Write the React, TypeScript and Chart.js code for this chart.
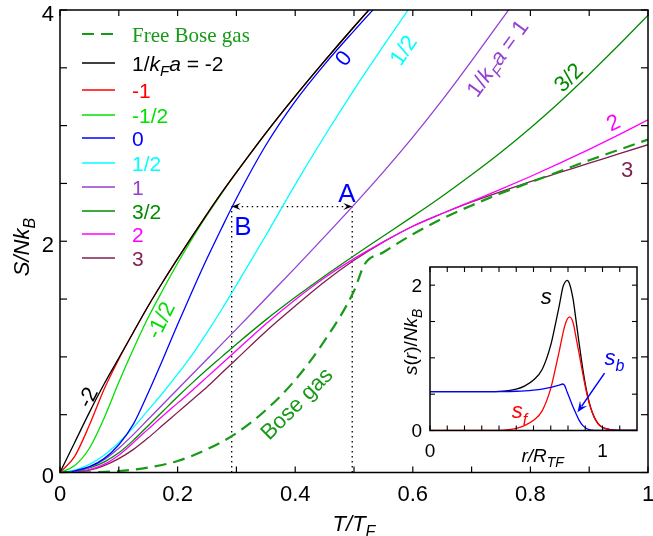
import React, { useEffect, useRef } from "react";
import { Chart, registerables } from "chart.js";

Chart.register(...registerables);

// ---------------- main chart data ----------------
const T_GRID = [0, 0.025, 0.05, 0.075, 0.1, 0.125, 0.15, 0.175, 0.2, 0.225, 0.25, 0.275, 0.3, 0.35, 0.4, 0.45, 0.5, 0.55, 0.6, 0.65, 0.7, 0.75, 0.8, 0.85, 0.9, 0.95, 1.0];

const S_NEG2 = [0, 0.26, 0.52, 0.765, 0.99, 1.215, 1.44, 1.65, 1.85, 2.045, 2.235, 2.42, 2.595, 2.935, 3.255, 3.56, 3.855, 4.14, null, null, null, null, null, null, null, null, null];
const S_NEG1 = [0, 0.14, 0.41, 0.72, 0.98, 1.215, 1.44, 1.65, 1.85, 2.045, 2.235, 2.42, 2.595, 2.935, 3.255, 3.56, 3.855, 4.14, null, null, null, null, null, null, null, null, null];
const S_NEGHALF = [0, 0.06, 0.21, 0.47, 0.78, 1.07, 1.34, 1.58, 1.81, 2.025, 2.225, 2.415, 2.595, 2.935, 3.255, 3.56, 3.855, 4.14, null, null, null, null, null, null, null, null, null];
const S_ZERO = [0, 0.015, 0.05, 0.12, 0.24, 0.42, 0.69, 0.98, 1.28, 1.57, 1.85, 2.115, 2.37, 2.83, 3.21, 3.53, 3.82, 4.1, null, null, null, null, null, null, null, null, null];
const S_HALF = [0, 0.02, 0.07, 0.15, 0.26, 0.39, 0.54, 0.69, 0.85, 1.02, 1.21, 1.41, 1.62, 2.05, 2.49, 2.91, 3.31, 3.69, 4.06, null, null, null, null, null, null, null, null];
const S_ONE = [0, 0.01, 0.045, 0.11, 0.21, 0.33, 0.46, 0.59, 0.72, 0.85, 0.98, 1.11, 1.24, 1.505, 1.77, 2.04, 2.315, 2.6, 2.9, 3.22, 3.56, 3.91, 4.26, null, null, null, null];
const S_THREEHALF = [0, 0.01, 0.04, 0.09, 0.17, 0.28, 0.405, 0.53, 0.655, 0.775, 0.89, 1.0, 1.11, 1.32, 1.515, 1.7, 1.875, 2.045, 2.215, 2.39, 2.575, 2.77, 2.98, 3.205, 3.445, 3.695, 3.955];
const S_TWO = [0, 0.005, 0.025, 0.07, 0.15, 0.26, 0.375, 0.49, 0.6, 0.71, 0.825, 0.94, 1.055, 1.285, 1.495, 1.685, 1.85, 1.995, 2.13, 2.24, 2.345, 2.45, 2.56, 2.675, 2.795, 2.92, 3.05];
const S_THREE = [0, 0.005, 0.02, 0.06, 0.12, 0.2, 0.3, 0.41, 0.52, 0.63, 0.74, 0.86, 0.98, 1.22, 1.44, 1.65, 1.835, 1.995, 2.13, 2.24, 2.34, 2.43, 2.515, 2.595, 2.675, 2.755, 2.835];

const SERIES_LABELS = ["-2", "-1", "-1/2", "0", "1/2", "1", "3/2", "2", "3"];
const SERIES_COLORS = ["#000000", "#ff0000", "#00e000", "#0000ff", "#00ffff", "#9440d3", "#008c00", "#ff00ff", "#7f1f4f"];
const SERIES_VALUES = [S_NEG2, S_NEG1, S_NEGHALF, S_ZERO, S_HALF, S_ONE, S_THREEHALF, S_TWO, S_THREE];

const BOSE_T = [0, 0.05, 0.1, 0.15, 0.2, 0.25, 0.3, 0.35, 0.4, 0.45, 0.5, 0.518, 0.55, 0.6, 0.65, 0.7, 0.75, 0.8, 0.85, 0.9, 0.95, 1.0];
const BOSE_S = [0, 0.002, 0.013, 0.043, 0.1, 0.2, 0.34, 0.54, 0.8, 1.14, 1.57, 1.8, 1.905, 2.06, 2.195, 2.31, 2.415, 2.51, 2.605, 2.7, 2.79, 2.88];
const BOSE_COLOR = "#179a17";
const BOSE_LABEL = "Free Bose gas";

const MARK_B_T = 0.292;
const MARK_A_T = 0.497;
const MARK_S = 2.3;

const X_TICK_VALUES = [0, 0.1, 0.2, 0.3, 0.4, 0.5, 0.6, 0.7, 0.8, 0.9, 1.0];
const X_LABEL_VALUES = [0, 0.2, 0.4, 0.6, 0.8, 1.0];
const X_LABEL_TEXT = ["0", "0.2", "0.4", "0.6", "0.8", "1"];
const Y_TICK_VALUES = [0, 0.5, 1, 1.5, 2, 2.5, 3, 3.5, 4];
const Y_LABEL_VALUES = [0, 2, 4];
const Y_LABEL_TEXT = ["0", "2", "4"];

// ---------------- inset data ----------------
const R_GRID = [0, 0.1, 0.2, 0.3, 0.4, 0.5, 0.55, 0.6, 0.65, 0.7, 0.725, 0.75, 0.77, 0.78, 0.795, 0.81, 0.83, 0.846, 0.865, 0.885, 0.905, 0.923, 0.94, 0.96, 0.98, 1.0, 1.02, 1.05, 1.1, 1.2];
const S_BOSON = [0.535, 0.535, 0.535, 0.535, 0.536, 0.54, 0.545, 0.555, 0.57, 0.595, 0.61, 0.625, 0.64, 0.62, 0.53, 0.44, 0.32, 0.235, 0.14, 0.07, 0.03, 0.012, 0.005, 0, 0, 0, 0, 0, 0, 0];
const S_FERMI = [0, 0, 0, 0, 0.003, 0.03, 0.07, 0.14, 0.27, 0.58, 0.83, 1.1, 1.33, 1.43, 1.53, 1.565, 1.48, 1.29, 1.05, 0.79, 0.55, 0.375, 0.25, 0.146, 0.08, 0.045, 0.025, 0.01, 0.002, 0];
const S_TOTAL = [0.535, 0.535, 0.535, 0.535, 0.539, 0.57, 0.615, 0.695, 0.84, 1.175, 1.44, 1.725, 1.97, 2.03, 2.065, 2.01, 1.8, 1.525, 1.19, 0.86, 0.58, 0.387, 0.255, 0.146, 0.08, 0.045, 0.025, 0.01, 0.002, 0];
const INSET_X_TICKS = [0, 0.1, 0.2, 0.3, 0.4, 0.5, 0.6, 0.7, 0.8, 0.9, 1.0, 1.1];
const INSET_Y_TICKS = [0, 0.5, 1, 1.5, 2];
const INSET_X_LABELS = [0, 1];
const INSET_Y_LABELS = [0, 2];

// ---------------- drawing helpers ----------------
type Part = { t: string; i?: boolean; sub?: boolean; serif?: boolean };
const SANS = '"Liberation Sans", Arial, sans-serif';
const SERIF = '"Liberation Serif", "Times New Roman", serif';

function drawRich(
  ctx: CanvasRenderingContext2D,
  parts: Part[],
  x: number,
  y: number,
  size: number,
  color: string,
  align: "left" | "center" | "right" = "left",
  rot = 0,
  middle = false
) {
  ctx.save();
  ctx.translate(x, y);
  if (rot) ctx.rotate((rot * Math.PI) / 180);
  const font = (p: Part) => `${p.i ? "italic " : ""}${p.sub ? Math.round(size * 0.72) : size}px ${p.serif ? SERIF : SANS}`;
  let w = 0;
  for (const p of parts) {
    ctx.font = font(p);
    w += ctx.measureText(p.t).width;
  }
  let cx = align === "left" ? 0 : align === "center" ? -w / 2 : -w;
  const by = middle ? size * 0.36 : 0;
  ctx.fillStyle = color;
  ctx.textBaseline = "alphabetic";
  ctx.textAlign = "left";
  for (const p of parts) {
    ctx.font = font(p);
    ctx.fillText(p.t, cx, by + (p.sub ? size * 0.28 : 0));
    cx += ctx.measureText(p.t).width;
  }
  ctx.restore();
}

function arrowHead(ctx: CanvasRenderingContext2D, tx: number, ty: number, dx: number, dy: number, len: number, half: number, color: string) {
  const n = Math.hypot(dx, dy);
  const ux = dx / n, uy = dy / n;
  const bx = tx - ux * len, by = ty - uy * len;
  const px = -uy, py = ux;
  ctx.save();
  ctx.fillStyle = color;
  ctx.beginPath();
  ctx.moveTo(tx, ty);
  ctx.lineTo(bx + px * half, by + py * half);
  ctx.lineTo(tx - ux * len * 0.6, ty - uy * len * 0.6);
  ctx.lineTo(bx - px * half, by - py * half);
  ctx.closePath();
  ctx.fill();
  ctx.restore();
}

function seg(ctx: CanvasRenderingContext2D, x1: number, y1: number, x2: number, y2: number) {
  ctx.beginPath();
  ctx.moveTo(x1, y1);
  ctx.lineTo(x2, y2);
  ctx.stroke();
}

const mainDecor = {
  id: "mainDecor",
  afterDraw(chart: any) {
    const { ctx, chartArea: ca } = chart;
    const xs = chart.scales.x;
    const ys = chart.scales.y;
    const X = (v: number) => xs.getPixelForValue(v);
    const Y = (v: number) => ys.getPixelForValue(v);
    ctx.save();
    // arrowheads at A and B
    arrowHead(ctx, X(MARK_B_T), Y(MARK_S), -1, 0, 9, 3.5, "#000");
    arrowHead(ctx, X(MARK_A_T), Y(MARK_S), 1, 0, 9, 3.5, "#000");

    // frame and inward ticks
    ctx.strokeStyle = "#000";
    ctx.lineWidth = 1.5;
    ctx.strokeRect(ca.left, ca.top, ca.right - ca.left, ca.bottom - ca.top);
    ctx.lineWidth = 1.2;
    for (const v of X_TICK_VALUES) {
      const p = X(v);
      seg(ctx, p, ca.bottom, p, ca.bottom - 6);
      seg(ctx, p, ca.top, p, ca.top + 6);
    }
    for (const v of Y_TICK_VALUES) {
      const p = Y(v);
      seg(ctx, ca.left, p, ca.left + 7, p);
      seg(ctx, ca.right, p, ca.right - 7, p);
    }
    // tick labels
    ctx.fillStyle = "#000";
    ctx.font = `22px ${SANS}`;
    ctx.textBaseline = "alphabetic";
    ctx.textAlign = "center";
    X_LABEL_VALUES.forEach((v, i) => ctx.fillText(X_LABEL_TEXT[i], X(v), ca.bottom + 28.5));
    ctx.textAlign = "right";
    Y_LABEL_VALUES.forEach((v, i) => ctx.fillText(Y_LABEL_TEXT[i], ca.left - 6, Y(v) + 3 + 22 * 0.36));

    // axis titles
    drawRich(ctx, [{ t: "T/T", i: true }, { t: "F", i: true, sub: true }], (ca.left + ca.right) / 2, ca.bottom + 58, 22, "#000", "center");
    drawRich(ctx, [{ t: "S/Nk", i: true }, { t: "B", i: true, sub: true }], 21, Y(1.95), 22, "#000", "center", -90, true);

    // curve labels
    drawRich(ctx, [{ t: "-2" }], X(0.046), Y(0.653), 22, SERIES_COLORS[0], "center", -63, true);
    drawRich(ctx, [{ t: "-1/2" }], X(0.17), Y(1.319), 22, SERIES_COLORS[2], "center", -63, true);
    drawRich(ctx, [{ t: "0" }], X(0.481), Y(3.586), 22, SERIES_COLORS[3], "center", -52, true);
    drawRich(ctx, [{ t: "1/2" }], X(0.583), Y(3.655), 22, SERIES_COLORS[4], "center", -56, true);
    drawRich(ctx, [{ t: "1/" }, { t: "k", i: true }, { t: "F", i: true, sub: true }, { t: "a", i: true }, { t: " = 1" }], X(0.743), Y(3.586), 22, SERIES_COLORS[5], "center", -54, true);
    drawRich(ctx, [{ t: "3/2" }], X(0.864), Y(3.421), 22, SERIES_COLORS[6], "center", -45, true);
    drawRich(ctx, [{ t: "2" }], X(0.9405), Y(3.032), 22, SERIES_COLORS[7], "center", -25, true);
    drawRich(ctx, [{ t: "3" }], X(0.9643), Y(2.625), 22, SERIES_COLORS[8], "center", 0, true);
    drawRich(ctx, [{ t: "Bose gas" }], X(0.4014), Y(0.601), 22, BOSE_COLOR, "center", -45, true);
    drawRich(ctx, [{ t: "A" }], X(0.488), Y(2.418), 26, "#0000ff", "center", 0, true);
    drawRich(ctx, [{ t: "B" }], X(0.311), Y(2.133), 26, "#0000ff", "center", 0, true);

    // legend
    const rows = [24, 53, 80, 105, 128, 153, 177, 201, 224, 248];
    const lx0 = ca.left + 22, lx1 = ca.left + 55, tx = ca.left + 72;
    ctx.lineWidth = 2.2;
    ctx.strokeStyle = BOSE_COLOR;
    ctx.setLineDash([12, 7]);
    seg(ctx, lx0, ca.top + rows[0], lx1, ca.top + rows[0]);
    ctx.setLineDash([]);
    drawRich(ctx, [{ t: BOSE_LABEL, serif: true }], tx, ca.top + rows[0], 21, BOSE_COLOR, "left", 0, true);
    ctx.lineWidth = 1.3;
    SERIES_LABELS.forEach((lab, k) => {
      const yy = ca.top + rows[k + 1];
      ctx.strokeStyle = SERIES_COLORS[k];
      seg(ctx, lx0, yy, lx1, yy);
      const parts: Part[] = k === 0
        ? [{ t: "1/" }, { t: "k", i: true }, { t: "F", i: true, sub: true }, { t: "a", i: true }, { t: " = " + lab }]
        : [{ t: lab }];
      drawRich(ctx, parts, tx, yy, 21, SERIES_COLORS[k], "left", 0, true);
    });
    ctx.restore();
  },
};

const insetDecor = {
  id: "insetDecor",
  beforeDatasetsDraw(chart: any) {
    const { ctx, chartArea: ca } = chart;
    ctx.save();
    ctx.fillStyle = "#fff";
    ctx.fillRect(ca.left, ca.top, ca.right - ca.left, ca.bottom - ca.top);
    ctx.restore();
  },
  afterDraw(chart: any) {
    const { ctx, chartArea: ca } = chart;
    const xs = chart.scales.x;
    const ys = chart.scales.y;
    const X = (v: number) => xs.getPixelForValue(v);
    const Y = (v: number) => ys.getPixelForValue(v);
    ctx.save();
    ctx.strokeStyle = "#000";
    ctx.lineWidth = 1.5;
    ctx.strokeRect(ca.left, ca.top, ca.right - ca.left, ca.bottom - ca.top);
    ctx.lineWidth = 1.1;
    for (const v of INSET_X_TICKS) {
      const p = X(v);
      seg(ctx, p, ca.bottom, p, ca.bottom - 5);
      seg(ctx, p, ca.top, p, ca.top + 5);
    }
    for (const v of INSET_Y_TICKS) {
      const p = Y(v);
      seg(ctx, ca.left, p, ca.left + 5, p);
      seg(ctx, ca.right, p, ca.right - 5, p);
    }
    ctx.fillStyle = "#000";
    ctx.font = `19px ${SANS}`;
    ctx.textAlign = "center";
    ctx.textBaseline = "alphabetic";
    INSET_X_LABELS.forEach((v) => ctx.fillText(String(v), X(v), ca.bottom + 26));
    ctx.textAlign = "right";
    INSET_Y_LABELS.forEach((v) => ctx.fillText(String(v), ca.left - 8, Y(v) + 19 * 0.36));

    drawRich(ctx, [{ t: "r/R", i: true }, { t: "TF", i: true, sub: true }], X(0.53), ca.bottom + 31, 19, "#000", "left");
    drawRich(ctx, [{ t: "s", i: true }, { t: "(" }, { t: "r", i: true }, { t: ")/" }, { t: "Nk", i: true }, { t: "B", i: true, sub: true }], ca.left - 20, Y(1.22), 19, "#000", "center", -90, true);

    drawRich(ctx, [{ t: "s", i: true }], X(0.642), Y(1.738), 22, "#000", "left");
    drawRich(ctx, [{ t: "s", i: true }, { t: "f", i: true, sub: true }], X(0.474), Y(0.166), 22, "#ff0000", "left");
    drawRich(ctx, [{ t: "s", i: true }, { t: "b", i: true, sub: true }], X(1.012), Y(0.897), 22, "#0000ff", "left");

    // blue arrow towards s_b
    const x1 = X(1.012), y1 = Y(0.79), x2 = X(0.855), y2 = Y(0.25);
    ctx.strokeStyle = "#0000ff";
    ctx.lineWidth = 1.5;
    seg(ctx, x1, y1, x2 + (x1 - x2) * 0.15, y2 + (y1 - y2) * 0.15);
    arrowHead(ctx, x2, y2, x2 - x1, y2 - y1, 11, 4.5, "#0000ff");
    ctx.restore();
  },
};

function pts(xs: number[], ys: (number | null)[]) {
  const out: { x: number; y: number }[] = [];
  xs.forEach((x, i) => {
    const y = ys[i];
    if (y !== null && y !== undefined) out.push({ x, y });
  });
  return out;
}

export default function App() {
  const mainRef = useRef<HTMLCanvasElement | null>(null);
  const insetRef = useRef<HTMLCanvasElement | null>(null);

  useEffect(() => {
    if (!mainRef.current || !insetRef.current) return;
    const lineBase = { pointRadius: 0, borderWidth: 1.3, fill: false, cubicInterpolationMode: "monotone" as const };
    const dotted = { pointRadius: 0, fill: false, borderColor: "#000", borderDash: [1.5, 3.5], borderWidth: 1.3, tension: 0 };
    const mainDatasets: any[] = [
      { ...lineBase, data: pts(BOSE_T, BOSE_S), borderColor: BOSE_COLOR, borderWidth: 2.2, borderDash: [12, 7] },
      ...SERIES_VALUES.map((vals, k) => ({ ...lineBase, data: pts(T_GRID, vals), borderColor: SERIES_COLORS[k] })),
      { ...dotted, data: [{ x: MARK_B_T, y: MARK_S }, { x: MARK_A_T, y: MARK_S }] },
      { ...dotted, data: [{ x: MARK_B_T, y: 0 }, { x: MARK_B_T, y: MARK_S }] },
      { ...dotted, data: [{ x: MARK_A_T, y: 0 }, { x: MARK_A_T, y: MARK_S }] },
    ];
    const hiddenAxis = (min: number, max: number, fit: (s: any) => void) => ({
      type: "linear" as const,
      min,
      max,
      grid: { display: false, drawTicks: false },
      border: { display: false },
      ticks: { display: false },
      afterFit: fit,
    });
    const main = new Chart(mainRef.current, {
      type: "line",
      data: { datasets: mainDatasets },
      options: {
        responsive: false,
        animation: false,
        devicePixelRatio: 1,
        events: [],
        layout: { padding: { top: 10, right: 5, left: 0, bottom: 0 } },
        plugins: { legend: { display: false }, tooltip: { enabled: false } },
        scales: {
          x: hiddenAxis(0, 1, (s: any) => { s.height = 63.5; }),
          y: hiddenAxis(0, 4, (s: any) => { s.width = 60; }),
        },
      } as any,
      plugins: [mainDecor],
    });

    const inset = new Chart(insetRef.current, {
      type: "line",
      data: {
        datasets: [
          { ...lineBase, data: pts(R_GRID, S_BOSON), borderColor: "#0000ff" },
          { ...lineBase, data: pts(R_GRID, S_FERMI), borderColor: "#ff0000" },
          { ...lineBase, data: pts(R_GRID, S_TOTAL), borderColor: "#000000" },
        ] as any,
      },
      options: {
        responsive: false,
        animation: false,
        devicePixelRatio: 1,
        events: [],
        layout: { padding: { top: 9, right: 8, left: 0, bottom: 0 } },
        plugins: { legend: { display: false }, tooltip: { enabled: false } },
        scales: {
          x: hiddenAxis(0, 1.2, (s: any) => { s.height = 37.5; }),
          y: hiddenAxis(0, 2.25, (s: any) => { s.width = 40; }),
        },
      } as any,
      plugins: [insetDecor],
    });
    return () => {
      main.destroy();
      inset.destroy();
    };
  }, []);

  return (
    <div style={{ position: "absolute", left: 0, top: 0, width: 653, height: 536, background: "#fff" }}>
      <canvas ref={mainRef} width={653} height={536} style={{ position: "absolute", left: 0, top: 0 }} />
      <canvas ref={insetRef} width={255} height={210} style={{ position: "absolute", left: 390, top: 258 }} />
    </div>
  );
}
